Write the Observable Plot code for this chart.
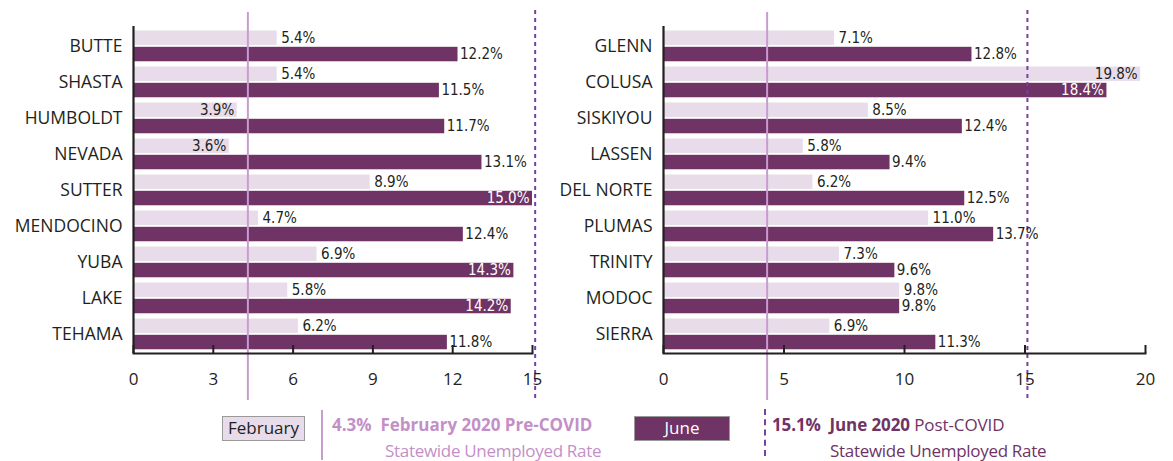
<!DOCTYPE html>
<html><head><meta charset="utf-8">
<script src="https://cdn.jsdelivr.net/npm/d3@7"></script>
<script src="https://cdn.jsdelivr.net/npm/@observablehq/plot@0.6"></script>
<style>
body{margin:0;background:#fff;font-family:"Open Sans",sans-serif;}
#wrap{position:relative;width:1173px;height:461px;overflow:hidden;}
#left{position:absolute;left:0;top:0}
#right{position:absolute;left:540px;top:0}
g[font-family*="DejaVu"]{font-stretch:condensed;}
.box{position:absolute;box-sizing:border-box;border:1px solid #9a9a9a;font-size:17px;line-height:22px;text-align:center;}
.lg{position:absolute;font-size:17px;white-space:nowrap;line-height:20px;}
</style></head><body>
<div id="wrap">
<div id="left"></div><div id="right"></div>
<div class="box" style="left:222px;top:416px;width:83px;height:25px;background:#e8dcea;color:#231f20;">February</div>
<div style="position:absolute;left:321px;top:410px;width:2px;height:50px;background:#c99ccf;"></div>
<div class="lg" style="left:332px;top:415px;color:#c48fc7;font-weight:700;letter-spacing:0px;">4.3%&nbsp; February 2020 Pre-COVID</div>
<div class="lg" style="left:385px;top:441px;color:#c48fc7;letter-spacing:-0.3px;">Statewide Unemployed Rate</div>
<div class="box" style="left:634px;top:416px;width:96px;height:25px;background:#6f3365;color:#fff;">June</div>
<div style="position:absolute;left:764px;top:409px;height:47px;border-left:2px dashed #7b3fa2;"></div>
<div class="lg" style="left:772px;top:415px;color:#6f3365;letter-spacing:-0.1px;"><b>15.1%&nbsp; June 2020</b> Post-COVID</div>
<div class="lg" style="left:830px;top:441px;color:#6f3365;letter-spacing:-0.3px;">Statewide Unemployed Rate</div>
</div>
<script>
const leftCounties = ["BUTTE","SHASTA","HUMBOLDT","NEVADA","SUTTER","MENDOCINO","YUBA","LAKE","TEHAMA"];
const leftFeb = [5.4,5.4,3.9,3.6,8.9,4.7,6.9,5.8,6.2];
const leftJun = [12.2,11.5,11.7,13.1,15.0,12.4,14.3,14.2,11.8];
const rightCounties = ["GLENN","COLUSA","SISKIYOU","LASSEN","DEL NORTE","PLUMAS","TRINITY","MODOC","SIERRA"];
const rightFeb = [7.1,19.8,8.5,5.8,6.2,11.0,7.3,9.8,6.9];
const rightJun = [12.8,18.4,12.4,9.4,12.5,13.7,9.6,9.8,11.3];
const leftTicks = [0,3,6,9,12,15];
const rightTicks = [0,5,10,15,20];
const preCovidRate = 4.3;
const postCovidRate = 15.1;

const FEB = "#e8dcea", JUN = "#6f3365", INK = "#231f20";
const NUM_FONT = "'DejaVu Sans Condensed','DejaVu Sans',sans-serif";

function panel(counties, feb, jun, ticks, opts) {
  const rows = counties.map((c, i) => ({county: c, feb: feb[i], jun: jun[i]}));
  const xmax = ticks[ticks.length - 1];
  const inside = v => v < preCovidRate || v > 0.9 * xmax;
  const fmt = v => v.toFixed(1) + "%";
  const H = 400, mt = 26, mb = 47;
  const step = (H - mt - mb) / counties.length;
  const febTop = 2.5, barH = 14.8, gap = 1.5;
  const lab = {fontFamily: NUM_FONT, fontSize: 15};
  return Plot.plot({
    width: opts.width, height: H,
    marginLeft: opts.marginLeft, marginRight: opts.marginRight,
    marginTop: mt, marginBottom: mb,
    style: {fontFamily: "'Open Sans',sans-serif", fontSize: "16px", color: INK, background: "transparent"},
    x: {domain: [0, xmax], axis: null},
    y: {domain: counties, padding: 0, axis: null},
    marks: [
      Plot.barX(rows, {x: "feb", y: "county", fill: FEB, insetTop: febTop, insetBottom: step - febTop - barH}),
      Plot.barX(rows, {x: "jun", y: "county", fill: JUN, insetTop: febTop + barH + gap, insetBottom: step - febTop - 2 * barH - gap}),
      Plot.ruleX([preCovidRate], {stroke: "#c99ccf", strokeWidth: 2, insetTop: -14, insetBottom: -47}),
      Plot.ruleX([postCovidRate], {stroke: "#7b3fa2", strokeWidth: 2, strokeDasharray: "4,4", insetTop: -16, insetBottom: -47}),
      Plot.ruleX([0], {stroke: INK, strokeWidth: 2.2}),
      Plot.frame({anchor: "bottom", stroke: INK, strokeWidth: 2}),
      Plot.axisX({ticks, tickSize: -8, tickPadding: 27, stroke: INK, strokeWidth: 2, fontSize: 17, fill: INK}),
      Plot.axisY({tickSize: 0, tickPadding: 11, fontSize: 17.5, fill: INK, label: null}),
      Plot.text(rows, {...lab, filter: d => !inside(d.feb), x: "feb", y: "county", text: d => fmt(d.feb), textAnchor: "start", dx: 4, dy: -8, fill: INK}),
      Plot.text(rows, {...lab, filter: d => inside(d.feb), x: "feb", y: "county", text: d => fmt(d.feb), textAnchor: "end", dx: -3, dy: -8, fill: INK}),
      Plot.text(rows, {...lab, filter: d => !inside(d.jun), x: "jun", y: "county", text: d => fmt(d.jun), textAnchor: "start", dx: 2, dy: 8, fill: INK}),
      Plot.text(rows, {...lab, filter: d => inside(d.jun), x: "jun", y: "county", text: d => fmt(d.jun), textAnchor: "end", dx: -3, dy: 8, fill: "#fff"})
    ]
  });
}

document.getElementById("left").append(panel(leftCounties, leftFeb, leftJun, leftTicks, {width: 545, marginLeft: 133, marginRight: 13}));
document.getElementById("right").append(panel(rightCounties, rightFeb, rightJun, rightTicks, {width: 633, marginLeft: 123, marginRight: 28}));
</script>
</body></html>
